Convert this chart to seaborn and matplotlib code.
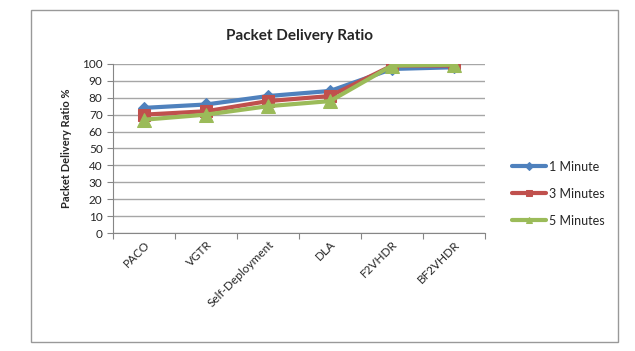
import matplotlib
matplotlib.use("Agg")
import matplotlib.pyplot as plt
import matplotlib.patches as patches
import pandas as pd
import seaborn as sns

# Data
protocols = ["PACO", "VGTR", "Self-Deployment", "DLA", "F2VHDR", "BF2VHDR"]
one_minute = [74, 76, 81, 84, 97, 98]
three_minutes = [70, 72, 78, 81, 99, 99]
five_minutes = [67, 70, 75, 78, 99, 99.5]
series_names = ["1 Minute", "3 Minutes", "5 Minutes"]

df = pd.DataFrame({
    "protocol": protocols * 3,
    "ratio": one_minute + three_minutes + five_minutes,
    "series": [s for s in series_names for _ in protocols],
})

sns.set_style("white")
plt.rcParams["font.family"] = ["Lato", "DejaVu Sans"]

colors = ["#4F81BD", "#C0504D", "#9BBB59"]
markers = {"1 Minute": "D", "3 Minutes": "s", "5 Minutes": "^"}
sizes = {"1 Minute": 6, "3 Minutes": 8.5, "5 Minutes": 9.5}

fig = plt.figure(figsize=(6.35, 3.51), dpi=100)
ax = fig.add_axes([0.178, 0.336, 0.586, 0.482])

for name, color in zip(series_names, colors):
    sub = df[df["series"] == name]
    sns.lineplot(data=sub, x="protocol", y="ratio", ax=ax, color=color,
                 linewidth=3, marker=markers[name], markersize=sizes[name],
                 markeredgecolor=color, label=name, sort=False)

ax.set_ylim(0, 100)
ax.set_xlim(-0.5, len(protocols) - 0.5)
ax.set_yticks(range(0, 101, 10))
ax.yaxis.grid(True, color="#A6A6A6", linewidth=1)
ax.set_axisbelow(True)
for side in ["top", "right"]:
    ax.spines[side].set_visible(False)
ax.spines["left"].set_color("#868686")
ax.spines["bottom"].set_color("#868686")

# category ticks at the boundaries, labels centred
ax.set_xticks([i - 0.5 for i in range(len(protocols) + 1)], minor=False)
ax.set_xticklabels([])
ax.set_xticks(range(len(protocols)), minor=True)
ax.set_xticklabels(protocols, minor=True, rotation=45, ha="right",
                   rotation_mode="anchor", fontsize=8.5)
ax.tick_params(axis="x", which="major", length=4, color="#868686", direction="out", bottom=True)
ax.tick_params(axis="x", which="minor", length=0, pad=4)
ax.tick_params(axis="y", length=4, color="#868686", labelsize=8.5, direction="out", left=True)

ax.set_xlabel("")
ax.set_ylabel("Packet Delivery Ratio %", fontsize=8, fontweight="bold", labelpad=7)
ax.set_title("Packet Delivery Ratio", fontsize=11, fontweight="bold", pad=17)

leg = ax.legend(loc="center left", bbox_to_anchor=(0.806, 0.448), bbox_transform=fig.transFigure,
                frameon=False, fontsize=9, handlelength=2.7, labelspacing=1.2,
                handletextpad=0.25, borderpad=0, borderaxespad=0)
for h in leg.legend_handles:
    h.set_markersize(4.5)

# outer chart border
fig.patches.append(patches.Rectangle((0.049, 0.026), 0.924, 0.946, transform=fig.transFigure,
                                     fill=False, edgecolor="#999999", linewidth=1))

fig.savefig("out.png", dpi=100)
